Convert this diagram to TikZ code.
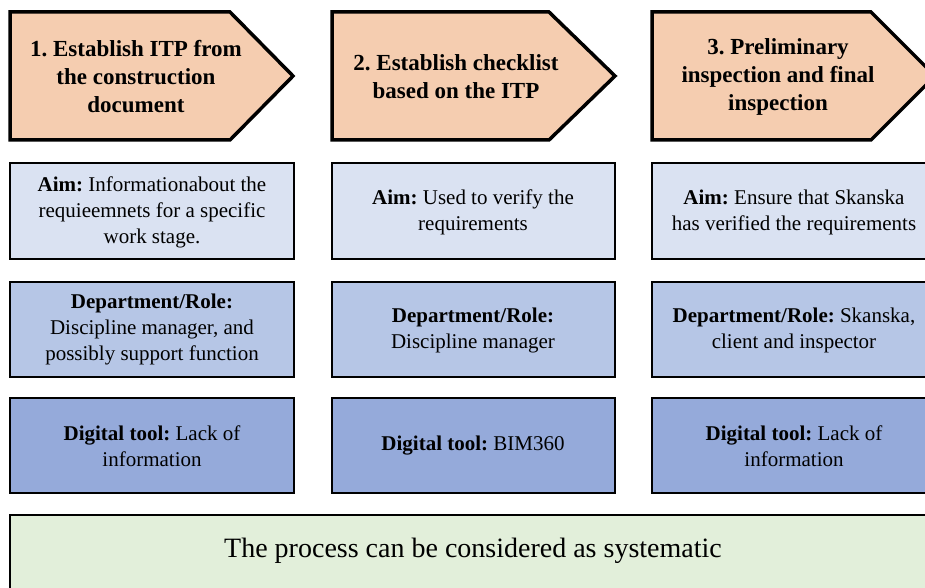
\documentclass[tikz,border=0pt]{standalone}
\usepackage{fontspec}
\setmainfont{Liberation Serif}
\definecolor{peach}{HTML}{F5CDB0}
\definecolor{aimc}{HTML}{DAE2F2}
\definecolor{depc}{HTML}{B6C6E6}
\definecolor{digc}{HTML}{95AADA}
\definecolor{botc}{HTML}{E2EFDA}
\frenchspacing
\begin{document}
\begin{tikzpicture}[x=1pt,y=-1pt,
  arrowshape/.style={draw=black,line width=3.5pt,fill=peach,line join=miter},
  boxshape/.style={draw=black,line width=1.8pt,fill=#1},
  headtxt/.style={font=\fontsize{23}{28}\selectfont\bfseries,align=center,inner sep=0pt},
  boxtxt/.style={font=\fontsize{21}{26}\selectfont,align=center,inner sep=0pt},
  bottxt/.style={font=\fontsize{28}{32}\selectfont,inner sep=0pt}]
\useasboundingbox (0,0) rectangle (925,588);
\fill[white] (0,0) rectangle (925,588);
\begin{scope}
\clip (0,0) rectangle (925,588);
% arrows
\draw[arrowshape] (10,12) -- (230,12) -- (293,76) -- (230,140) -- (10,140) -- cycle;
\draw[arrowshape] (332,12) -- (549,12) -- (615,76) -- (549,140) -- (332,140) -- cycle;
\draw[arrowshape] (652,12) -- (871,12) -- (935,76) -- (871,140) -- (652,140) -- cycle;
\node[headtxt] (h1) at (136,77) {1. Establish ITP from\\the construction\\document};
\node[headtxt] (h2) at (456,77) {2. Establish checklist\\based on the ITP};
\node[headtxt] (h3) at (778,77) {3. Preliminary\\inspection and final\\inspection};
% aim row
\draw[boxshape=aimc] (10,163) rectangle (294,259);
\draw[boxshape=aimc] (332,163) rectangle (615,259);
\draw[boxshape=aimc] (652,163) rectangle (936,259);
\node[boxtxt] (a1) at (152,212) {\textbf{Aim:} Informationabout the\\requieemnets for a specific\\work stage.};
\node[boxtxt] (a2) at (473,212) {\textbf{Aim:} Used to verify the\\requirements};
\node[boxtxt] (a3) at (794,212) {\textbf{Aim:} Ensure that Skanska\\has verified the requirements};
% department row
\draw[boxshape=depc] (10,282) rectangle (294,377);
\draw[boxshape=depc] (332,282) rectangle (615,377);
\draw[boxshape=depc] (652,282) rectangle (936,377);
\node[boxtxt] (d1) at (152,329) {\textbf{Department/Role:}\\Discipline manager, and\\possibly support function};
\node[boxtxt] (d2) at (473,330) {\textbf{Department/Role:}\\Discipline manager};
\node[boxtxt] (d3) at (794,330) {\textbf{Department/Role:} Skanska,\\client and inspector};
% digital tool row
\draw[boxshape=digc] (10,398) rectangle (294,493);
\draw[boxshape=digc] (332,398) rectangle (615,493);
\draw[boxshape=digc] (652,398) rectangle (936,493);
\node[boxtxt] (t1) at (152,446) {\textbf{Digital tool:} Lack of\\information};
\node[boxtxt] (t2) at (473,446) {\textbf{Digital tool:} BIM360};
\node[boxtxt] (t3) at (794,446) {\textbf{Digital tool:} Lack of\\information};
% bottom
\draw[boxshape=botc] (10,515) rectangle (936,600);
\node[bottxt] (b) at (473,551) {The process can be considered as systematic};
\end{scope}
\end{tikzpicture}
\end{document}
